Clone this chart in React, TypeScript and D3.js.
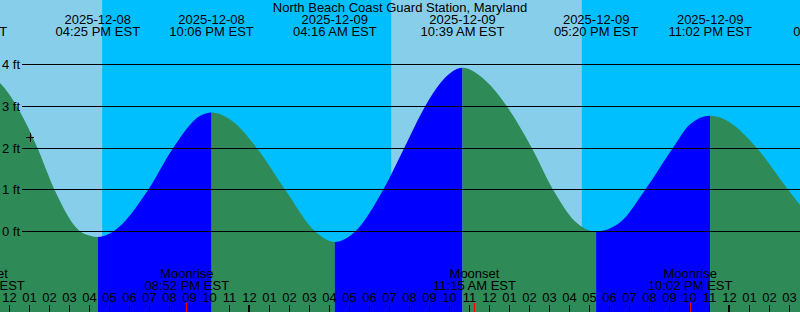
import React from "react";
import * as d3 from "d3";

const WIDTH = 800;
const HEIGHT = 312;

const stationTitle = "North Beach Coast Guard Station, Maryland";

// High / low tide events
const tideEventTimes = [
  "2025-12-08 09:47",
  "2025-12-08 16:25",
  "2025-12-08 22:06",
  "2025-12-09 04:16",
  "2025-12-09 10:39",
  "2025-12-09 17:20",
  "2025-12-09 23:02",
  "2025-12-10 05:17",
];
const tideEventHeights = [3.95, -0.13, 2.85, -0.25, 3.92, 0.0, 2.77, -0.2];

// Heights (ft)
const curveTimes = [
  "2025-12-08 11:32", "2025-12-08 12:22", "2025-12-08 13:24",
  "2025-12-08 14:15", "2025-12-08 15:32", "2025-12-08 16:02",
  "2025-12-08 17:11", "2025-12-08 18:56", "2025-12-08 20:11", "2025-12-08 21:32",
  "2025-12-08 23:11", "2025-12-09 00:22", "2025-12-09 01:47", "2025-12-09 03:17",
  "2025-12-09 05:17", "2025-12-09 06:41", "2025-12-09 07:44", "2025-12-09 08:47", "2025-12-09 09:32",
  "2025-12-09 11:47", "2025-12-09 12:52", "2025-12-09 14:07", "2025-12-09 15:11", "2025-12-09 16:17",
  "2025-12-09 18:32", "2025-12-09 19:47", "2025-12-09 21:10", "2025-12-09 22:02",
  "2025-12-10 00:17", "2025-12-10 00:47", "2025-12-10 01:22", "2025-12-10 02:56", "2025-12-10 03:32",
];
const curveHeights = [
  3.55, 3.0, 2.0,
  1.0, 0.0, -0.1,
  0.0, 1.0, 2.0, 2.77,
  2.63, 2.0, 1.0, 0.0,
  0.0, 1.0, 2.0, 3.0, 3.55,
  3.62, 3.0, 2.0, 1.0, 0.24,
  0.22, 1.0, 2.0, 2.57,
  2.52, 2.3, 2.0, 1.0, 0.63,
];

// Daylight intervals (sunrise -> sunset)
const dayStarts = ["2025-12-08 07:04", "2025-12-09 07:05"];
const dayEnds = ["2025-12-08 16:38", "2025-12-09 16:37"];

// Moon events
const moonEventTimes = ["2025-12-08 10:40", "2025-12-08 20:52", "2025-12-09 11:15", "2025-12-09 22:02"];
const moonEventNames = ["Moonset", "Moonrise", "Moonset", "Moonrise"];

// Current-time marker
const nowTime = "2025-12-08 13:02";
const nowHeight = 2.25;

const heightTicks = [0, 1, 2, 3, 4];

const COLORS = {
  day: "#87CEEB",
  night: "#00BFFF",
  falling: "#2E8B57",
  rising: "#0000FF",
  text: "#000000",
  moon: "#FF0000",
};

const FONT = "'Liberation Sans', Arial, Helvetica, sans-serif";

const parse = d3.timeParse("%Y-%m-%d %H:%M");
const fmtDate = d3.timeFormat("%Y-%m-%d");
const fmtTime = d3.timeFormat("%I:%M %p EST");
const fmtHour = d3.timeFormat("%I");

export default function App() {
  const xScale = d3
    .scaleTime()
    .domain([parse("2025-12-08 12:00")!, parse("2025-12-10 04:00")!])
    .range([9.5, 809.5]);
  const yScale = d3.scaleLinear().domain([0, 4]).range([231.5, 64.5]);

  const events = tideEventTimes.map((t, i) => ({ t: parse(t)!, v: tideEventHeights[i] }));
  const samples = curveTimes.map((t, i) => ({ t: parse(t)!, v: curveHeights[i] }));
  const points = [...events, ...samples].sort((a, b) => +a.t - +b.t);

  const area = d3
    .area<{ t: Date; v: number }>()
    .x((d) => xScale(d.t))
    .y0(HEIGHT)
    .y1((d) => yScale(d.v))
    .curve(d3.curveMonotoneX);

  const segments = events.slice(0, -1).map((e, i) => ({
    x0: xScale(e.t),
    x1: xScale(events[i + 1].t),
    color: e.v > events[i + 1].v ? COLORS.falling : COLORS.rising,
  }));

  const hours = d3.timeHour.range(xScale.invert(-20), xScale.invert(WIDTH + 20));

  const moons = moonEventTimes.map((t, i) => ({ t: parse(t)!, name: moonEventNames[i] }));
  const nowX = xScale(parse(nowTime)!);
  const nowY = yScale(nowHeight);

  return (
    <svg
      width={WIDTH}
      height={HEIGHT}
      style={{ position: "fixed", left: 0, top: 0, display: "block" }}
      fontFamily={FONT}
      fontSize={13}
    >
      <defs>
        <clipPath id="tideClip">
          <path d={area(points) || ""} />
        </clipPath>
      </defs>
      <rect x={0} y={0} width={WIDTH} height={HEIGHT} fill={COLORS.night} />
      {dayStarts.map((s, i) => {
        const x0 = xScale(parse(s)!);
        const x1 = xScale(parse(dayEnds[i])!);
        return <rect key={"day" + i} x={x0} y={0} width={x1 - x0} height={HEIGHT} fill={COLORS.day} />;
      })}
      <g clipPath="url(#tideClip)">
        {segments.map((s, i) => (
          <rect key={"seg" + i} x={s.x0} y={0} width={s.x1 - s.x0} height={HEIGHT} fill={s.color} />
        ))}
      </g>
      {heightTicks.map((v) => {
        const y = Math.floor(yScale(v)) + 0.5;
        return (
          <g key={"h" + v}>
            <line x1={22} x2={WIDTH} y1={y} y2={y} stroke="#000" strokeWidth={1} />
            <text x={2} y={y + 4.5} fill={COLORS.text}>
              {v} ft
            </text>
          </g>
        );
      })}
      <text x={WIDTH / 2} y={12} textAnchor="middle" fill={COLORS.text}>
        {stationTitle}
      </text>
      {events.map((e, i) => (
        <g key={"ev" + i} textAnchor="middle" fill={COLORS.text}>
          <text x={xScale(e.t)} y={24}>
            {fmtDate(e.t)}
          </text>
          <text x={xScale(e.t)} y={36}>
            {fmtTime(e.t)}
          </text>
        </g>
      ))}
      {moons.map((m, i) => (
        <g key={"moon" + i} textAnchor="middle" fill={COLORS.text}>
          <text x={xScale(m.t)} y={278}>
            {m.name}
          </text>
          <text x={xScale(m.t)} y={290}>
            {fmtTime(m.t)}
          </text>
        </g>
      ))}
      {hours.map((h, i) => {
        const x = xScale(h);
        const midnight = +d3.timeDay.floor(h) === +h;
        return (
          <g key={"hr" + i}>
            <text x={x} y={302} textAnchor="middle" fill={COLORS.text}>
              {fmtHour(h)}
            </text>
            {midnight ? (
              <rect x={Math.floor(x) - 1} y={305} width={2} height={HEIGHT - 305} fill="#000" />
            ) : (
              <line x1={Math.floor(x) + 0.5} x2={Math.floor(x) + 0.5} y1={305} y2={HEIGHT} stroke="#000" />
            )}
          </g>
        );
      })}
      {moons.map((m, i) => {
        const x = Math.floor(xScale(m.t)) + 0.5;
        return <line key={"mt" + i} x1={x} x2={x} y1={303} y2={HEIGHT} stroke={COLORS.moon} strokeWidth={1} />;
      })}
      <g stroke="#000" strokeWidth={1}>
        <line x1={Math.round(nowX) - 4} x2={Math.round(nowX) + 4} y1={Math.floor(nowY) + 0.5} y2={Math.floor(nowY) + 0.5} />
        <line x1={Math.round(nowX) + 0.5} x2={Math.round(nowX) + 0.5} y1={Math.floor(nowY) - 4} y2={Math.floor(nowY) + 5} />
      </g>
    </svg>
  );
}
